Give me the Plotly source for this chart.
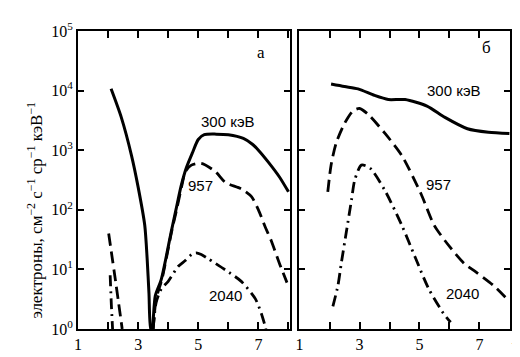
import plotly.graph_objects as go

# ---- data (L, flux) ----
# panel a
a300_L = [2.1, 2.44, 2.78, 3.0, 3.22, 3.3, 3.36, 3.42, 3.46, 3.57, 3.77, 4.1, 4.3, 4.43, 4.6, 4.8, 5.0, 5.2, 5.6, 6.0, 6.5, 6.8, 7.0, 7.33, 7.7, 8.0]
a300_v = [10700, 3550, 813, 240, 55, 15, 4, 1, 1, 3.6, 6.8, 42.7, 126, 251, 501, 891, 1510, 1820, 1860, 1820, 1580, 1260, 1000, 631, 355, 200]
a957_lo_L = [2.02, 2.25, 2.47]
a957_lo_v = [40, 6.3, 1]
a957_L = [3.5, 3.6, 3.8, 4.1, 4.3, 4.45, 4.57, 4.77, 5.1, 5.57, 5.9, 6.43, 6.77, 7.0, 7.23, 7.43, 7.7, 7.95]
a957_v = [1, 3.2, 7.1, 40, 112, 251, 437, 562, 603, 437, 288, 224, 166, 100, 51, 30, 12.6, 6.0]
a2040_lo_L = [2.07, 2.11, 2.15]
a2040_lo_v = [8, 2.5, 1]
a2040_L = [3.5, 3.6, 3.77, 4.0, 4.33, 4.57, 4.8, 4.93, 5.1, 5.33, 5.9, 6.43, 6.9, 7.1, 7.25]
a2040_v = [1, 2.8, 4.7, 6.3, 11.2, 14.1, 18.2, 19, 17.8, 15.1, 9.8, 6.3, 3.2, 1.8, 1]
# panel b
b300_L = [2.05, 2.5, 2.95, 3.5, 3.96, 4.52, 5.25, 5.85, 6.6, 7.3, 8.0]
b300_v = [12900, 11700, 10700, 8300, 7080, 7080, 5500, 3550, 2290, 2000, 1900]
b957_L = [1.94, 2.05, 2.22, 2.5, 2.78, 3.0, 3.29, 3.85, 4.41, 5.05, 5.49, 6.04, 6.49, 6.9, 7.5, 8.0]
b957_v = [200, 562, 1320, 2820, 4570, 5010, 3980, 1910, 813, 186, 55, 22.9, 12.6, 8.9, 5.2, 2.9]
b2040_L = [2.11, 2.28, 2.39, 2.56, 2.73, 2.84, 3.06, 3.35, 3.85, 4.41, 4.86, 5.31, 5.81, 6.04]
b2040_v = [2.4, 5.4, 12.6, 42.7, 145, 316, 562, 501, 209, 55, 15.8, 4.7, 1.8, 1.3]

x_tickvals = [1, 2, 3, 4, 5, 6, 7, 8]
x_ticktext = ["1", "", "3", "", "5", "", "7", ""]
y_tickvals = [1, 10, 100, 1000, 10000, 100000]
y_ticktext = ["10<sup>0</sup>", "10<sup>1</sup>", "10<sup>2</sup>", "10<sup>3</sup>", "10<sup>4</sup>", "10<sup>5</sup>"]

SOLID = dict(color="black", width=3)
DASH = dict(color="black", width=2.8, dash="12px,6px")
DASHDOT = dict(color="black", width=2.8, dash="11px,5px,2px,5px")

fig = go.Figure()
def add(L, v, line, xa, ya):
    fig.add_trace(go.Scatter(x=L, y=v, mode="lines", line=dict(shape="spline", smoothing=0.7, **line),
                             xaxis=xa, yaxis=ya, showlegend=False, hoverinfo="skip"))

add(a300_L, a300_v, SOLID, "x", "y")
add(a957_lo_L, a957_lo_v, DASH, "x", "y")
add(a957_L, a957_v, DASH, "x", "y")
add(a2040_lo_L, a2040_lo_v, DASHDOT, "x", "y")
add(a2040_L, a2040_v, DASHDOT, "x", "y")
add(b300_L, b300_v, SOLID, "x2", "y2")
add(b957_L, b957_v, DASH, "x2", "y2")
add(b2040_L, b2040_v, DASHDOT, "x2", "y2")

SERIF = "Liberation Serif"
SANS = "Liberation Sans"
axis_common = dict(showline=True, linecolor="black", linewidth=1.8, mirror="ticks",
                   ticks="inside", tickcolor="black", tickwidth=1.5, showgrid=False, zeroline=False,
                   tickfont=dict(family=SERIF, size=16, color="black"))

fig.update_layout(
    width=520, height=357,
    margin=dict(l=70, r=18, t=20, b=25),
    paper_bgcolor="white", plot_bgcolor="white",
    xaxis=dict(domain=[0, 0.4907], range=[1, 8.05], tickvals=x_tickvals, ticktext=x_ticktext,
               ticklen=7, anchor="y", **axis_common),
    xaxis2=dict(domain=[0.5116, 1], range=[0.98, 8.02], tickvals=x_tickvals, ticktext=x_ticktext,
                ticklen=7, anchor="y2", **axis_common),
    yaxis=dict(type="log", range=[0, 5], tickvals=y_tickvals, ticktext=y_ticktext, ticklen=6,
               anchor="x", **axis_common),
    yaxis2=dict(type="log", range=[0, 5], tickvals=y_tickvals, showticklabels=False, ticklen=6,
                anchor="x2", **axis_common),
)

lab = dict(family=SANS, size=15, color="black")
anns = [
    ("x", "y", 6.0, 3.49, "300 кэВ"),
    ("x", "y", 5.07, 2.4, "957"),
    ("x", "y", 5.9, 0.56, "2040"),
    ("x2", "y2", 6.15, 4.0, "300 кэВ"),
    ("x2", "y2", 5.65, 2.43, "957"),
    ("x2", "y2", 6.42, 0.59, "2040"),
]
for xr, yr, x, y, t in anns:
    fig.add_annotation(xref=xr, yref=yr, x=x, y=y, text=t, showarrow=False, font=lab)
fig.add_annotation(xref="x", yref="y", x=7.1, y=4.64, text="а", showarrow=False,
                   font=dict(family=SERIF, size=17, color="black"))
fig.add_annotation(xref="x2", yref="y2", x=7.23, y=4.72, text="б", showarrow=False,
                   font=dict(family=SERIF, size=17, color="black"))
fig.add_annotation(xref="paper", yref="paper", x=-0.1, y=0.40, textangle=-90,
                   text="электроны, см<sup>−2</sup> с<sup>−1</sup> ср<sup>−1</sup> кэВ<sup>−1</sup>",
                   showarrow=False, xanchor="center", yanchor="middle",
                   font=dict(family=SERIF, size=17, color="black"))
fig.add_annotation(xref="paper", yref="paper", x=0.998, y=-0.035, text="L", showarrow=False,
                   xanchor="left", yanchor="middle",
                   font=dict(family=SERIF, size=15, color="black", style="italic"))

fig.write_html("out.html")
